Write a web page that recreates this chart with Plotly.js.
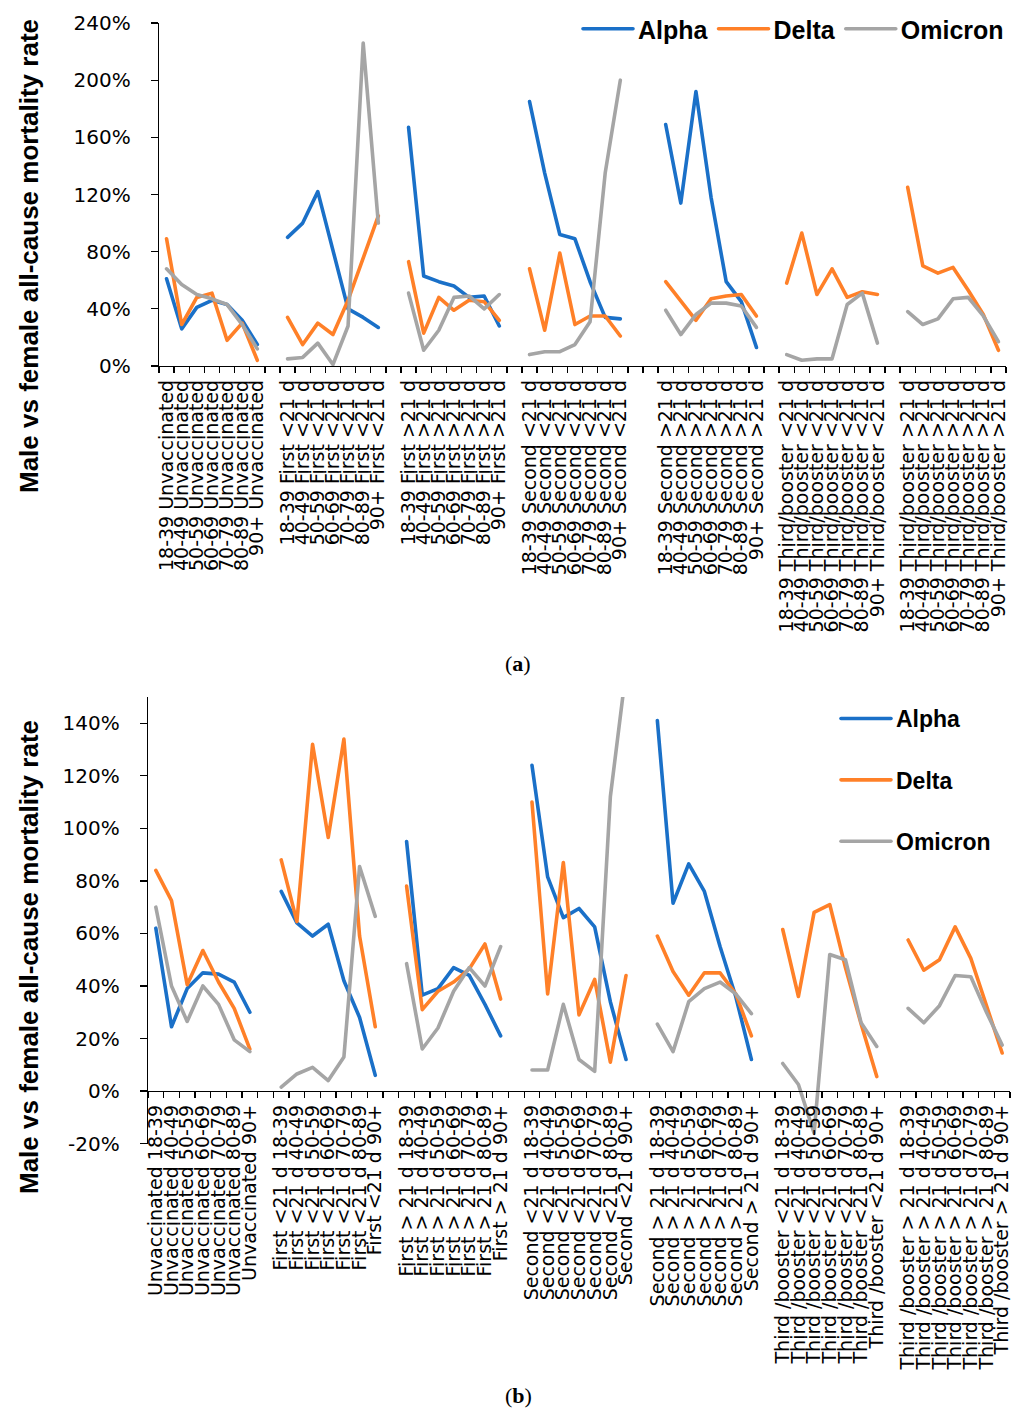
<!DOCTYPE html>
<html><head><meta charset="utf-8">
<script src="https://cdn.plot.ly/plotly-3.0.1.min.js"></script>
<style>html,body{margin:0;padding:0;background:#fff}#chart{width:1017px;height:1410px}
path.js-line{stroke-linejoin:round;stroke-linecap:round}</style>
</head><body><div id="chart"></div>
<script>
// ---------------- data ----------------
const ageGroups = ['18-39','40-49','50-59','60-69','70-79','80-89','90+'];
const statusA = ['Unvaccinated','First <21 d','First >21 d','Second <21 d','Second >21 d','Third/booster <21 d','Third/booster >21 d'];
const statusB = ['Unvaccinated','First <21 d','First > 21 d','Second <21 d','Second > 21 d','Third /booster <21 d','Third /booster > 21 d'];
const variants = ['Alpha','Delta','Omicron'];

// panel (a): male vs female all-cause mortality rate, % (7 statuses x 7 age groups)
const alphaA = [
  61, 26, 41, 46, 43, 32, 15,
  90, 100, 122, 80, 40, 34, 27,
  167, 63, 59, 56, 48, 49, 28,
  185, 135, 92, 89, 59, 34, 33,
  169, 114, 192, 118, 59, 45, 13,
  null, null, null, null, null, null, null,
  null, null, null, null, null, null, null];
const deltaA = [
  89, 29, 48, 51, 18, 30, 4,
  34, 15, 30, 22, 46, 76, 105,
  73, 23, 48, 39, 46, 45, 32,
  68, 25, 79, 29, 35, 35, 21,
  59, 45, 32, 47, 49, 50, 35,
  58, 93, 50, 68, 48, 52, 50,
  125, 70, 65, 69, 53, 36, 11];
const omicronA = [
  68, 57, 50, 47, 43, 29, 12,
  5, 6, 16, 1, 28, 226, 100,
  51, 11, 25, 48, 49, 40, 50,
  8, 10, 10, 15, 31, 135, 200,
  39, 22, 36, 44, 44, 42, 27,
  8, 4, 5, 5, 43, 51, 16,
  38, 29, 33, 47, 48, 35, 17];

// panel (b)
const alphaB = [
  62, 24.5, 39, 45, 44.5, 41.5, 30,
  76, 64, 59, 63.5, 42, 28, 6,
  95, 36.5, 39, 47, 44, 33, 21,
  124, 81.5, 66, 69.5, 62.5, 34, 12,
  141, 71.5, 86.5, 76, 55, 36, 12,
  null, null, null, null, null, null, null,
  null, null, null, null, null, null, null];
const deltaB = [
  84, 72.5, 40.5, 53.5, 41.5, 31.5, 16,
  88, 64.5, 132, 96.5, 134, 59, 24.5,
  78, 31, 38, 41.5, 46.5, 56, 35,
  110, 37, 87, 29, 42.5, 11, 44,
  59, 45.5, 36.5, 45, 45, 37, 21,
  61.5, 36, 68, 71, 47, 25.5, 5.5,
  57.5, 46, 50, 62.5, 50.5, 32.5, 14.5];
const omicronB = [
  70, 40, 26.5, 40, 33, 19.5, 15,
  1.5, 6.5, 9, 4, 13, 85.5, 66.5,
  48.5, 16, 24, 38, 47, 40, 55,
  8, 8, 33, 12, 7.5, 112, 160,
  25.5, 15, 34, 39, 41.5, 37, 29.5,
  10.5, 2.5, -16, 52, 50, 26, 17,
  31.5, 26, 32.5, 44, 43.5, 30, 17.5];

const yTicksA = [0, 40, 80, 120, 160, 200, 240];
const yTicksB = [-20, 0, 20, 40, 60, 80, 100, 120, 140];

// ---------------- layout config ----------------
const gapsA = [1, 1, 1, 2, 1, 1];   // empty category slots after each group
const gapsB = [1, 1, 1, 1, 1, 1];
const colors = {Alpha: '#1A70C8', Delta: '#FF8028', Omicron: '#A5A5A5'};
const W = 1017, H = 1410;
const px = v => v / W, py = v => 1 - v / H;

function groupStarts(gaps) {
  const s = [0];
  gaps.forEach((g, i) => s.push(s[i] + ageGroups.length + g));
  return s;
}
const startsA = groupStarts(gapsA), startsB = groupStarts(gapsB);
const nSlotsA = startsA[startsA.length - 1] + ageGroups.length;
const nSlotsB = startsB[startsB.length - 1] + ageGroups.length;

function series(vals, starts) {
  const x = [], y = [];
  starts.forEach((st, g) => {
    ageGroups.forEach((a, i) => { x.push(st + i); y.push(vals[g * ageGroups.length + i]); });
    x.push(st + ageGroups.length - 0.5); y.push(null);
  });
  return {x, y};
}
function ticks(starts, labelFn) {
  const vals = [], text = [];
  starts.forEach((st, g) => ageGroups.forEach((a, i) => { vals.push(st + i); text.push(labelFn(g, a)); }));
  return {vals, text};
}
const ticksA = ticks(startsA, (g, a) => a + ' ' + statusA[g]);
const ticksB = ticks(startsB, (g, a) => statusB[g] + ' ' + a);

const dataA = {Alpha: alphaA, Delta: deltaA, Omicron: omicronA};
const dataB = {Alpha: alphaB, Delta: deltaB, Omicron: omicronB};

const traces = [];
variants.forEach(v => {
  const s = series(dataA[v], startsA);
  traces.push({type: 'scatter', mode: 'lines', name: v, x: s.x, y: s.y, xaxis: 'x', yaxis: 'y',
    line: {color: colors[v], width: 3.6}, legend: 'legend', legendgroup: 'a' + v, connectgaps: false});
});
variants.forEach(v => {
  const s = series(dataB[v], startsB);
  traces.push({type: 'scatter', mode: 'lines', name: v, x: s.x, y: s.y, xaxis: 'x2', yaxis: 'y2',
    line: {color: colors[v], width: 3.6}, legend: 'legend2', legendgroup: 'b' + v, connectgaps: false});
});

const tickFont = {family: 'DejaVu Sans', size: 20, color: '#000'};
const catFont = {family: 'DejaVu Sans', size: 19, color: '#000'};
const pct = arr => arr.map(v => v + '%');

// panel geometry (pixels)
const A = {l: 159, r: 1006, top: 23, bottom: 366};
const B = {l: 148, r: 1010, top: 697, bottom: 1143.6};
const yRangeB = [-20, 150];
const yDomB = [py(B.bottom), py(B.top)];
const x2pos = yDomB[0] + (yDomB[1] - yDomB[0]) * (0 - yRangeB[0]) / (yRangeB[1] - yRangeB[0]);

const commonX = {
  tickmode: 'array', ticks: '', tickangle: -90, tickfont: catFont,
  showline: true, linecolor: '#000', linewidth: 1.3, showgrid: false, zeroline: false,
  minor: {tickmode: 'linear', tick0: -0.5, dtick: 1, ticks: 'outside', ticklen: 6, tickcolor: '#000', tickwidth: 1.3, showgrid: false},
  ticklabelstandoff: 5, ticklabeloverflow: 'allow', automargin: false, fixedrange: true
};
const commonY = {
  tickmode: 'array', ticks: 'outside', ticklen: 7, tickcolor: '#000', tickwidth: 1.3,
  showline: true, linecolor: '#000', linewidth: 1.3, showgrid: false, zeroline: false,
  tickfont: tickFont, ticklabelstandoff: 16, automargin: false, fixedrange: true
};

const titleText = '<b>Male vs female all-cause mortality rate</b>';
const layout = {
  width: W, height: H, margin: {l: 0, r: 0, t: 0, b: 0},
  paper_bgcolor: '#fff', plot_bgcolor: 'rgba(0,0,0,0)',
  font: {family: 'DejaVu Sans', color: '#000'},
  showlegend: true, hovermode: false,
  xaxis: Object.assign({}, commonX, {domain: [px(A.l), px(A.r)], range: [-0.5, nSlotsA - 0.5],
    tickvals: ticksA.vals, ticktext: ticksA.text, anchor: 'y'}),
  yaxis: Object.assign({}, commonY, {domain: [py(A.bottom), py(A.top)], range: [0, 240],
    tickvals: yTicksA, ticktext: pct(yTicksA), anchor: 'x'}),
  xaxis2: Object.assign({}, commonX, {domain: [px(B.l), px(B.r)], range: [-0.5, nSlotsB - 0.5],
    tickvals: ticksB.vals, ticktext: ticksB.text, anchor: 'free', position: x2pos}),
  yaxis2: Object.assign({}, commonY, {domain: yDomB, range: yRangeB,
    tickvals: yTicksB, ticktext: pct(yTicksB), anchor: 'x2'}),
  legend: {orientation: 'h', x: px(578), xanchor: 'left', y: py(6), yanchor: 'top',
    font: {family: 'Liberation Sans', size: 25, weight: 'bold', color: '#000'},
    bgcolor: 'rgba(0,0,0,0)', itemwidth: 50},
  legend2: {orientation: 'v', x: px(836), xanchor: 'left', y: py(697), yanchor: 'top',
    font: {family: 'Liberation Sans', size: 23, weight: 'bold', color: '#000'},
    bgcolor: 'rgba(0,0,0,0)', traceorder: 'grouped', tracegroupgap: 28.5, itemwidth: 50},
  annotations: [
    {text: titleText, textangle: -90, xref: 'paper', yref: 'paper', x: px(29), y: py(256),
      xanchor: 'center', yanchor: 'middle', showarrow: false,
      font: {family: 'Liberation Sans', size: 26, color: '#000'}},
    {text: titleText, textangle: -90, xref: 'paper', yref: 'paper', x: px(29), y: py(957),
      xanchor: 'center', yanchor: 'middle', showarrow: false,
      font: {family: 'Liberation Sans', size: 26, color: '#000'}},
    {text: '(<b>a</b>)', xref: 'paper', yref: 'paper', x: px(518), y: py(663),
      xanchor: 'center', yanchor: 'middle', showarrow: false,
      font: {family: 'Liberation Serif', size: 22, color: '#000'}},
    {text: '(<b>b</b>)', xref: 'paper', yref: 'paper', x: px(518), y: py(1395),
      xanchor: 'center', yanchor: 'middle', showarrow: false,
      font: {family: 'Liberation Serif', size: 22, color: '#000'}}
  ]
};

Plotly.newPlot('chart', traces, layout, {staticPlot: true, displayModeBar: false});
</script>
</body></html>
